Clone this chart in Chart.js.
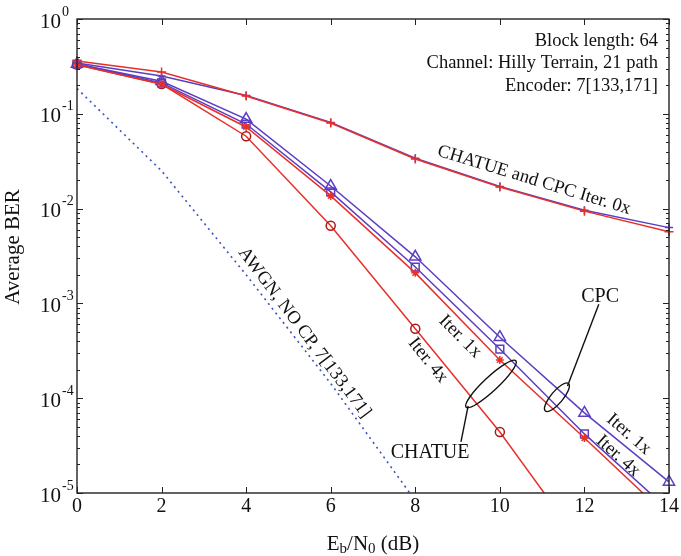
<!DOCTYPE html>
<html>
<head>
<meta charset="utf-8">
<script src="https://cdn.jsdelivr.net/npm/chart.js@4.4.1/dist/chart.umd.min.js"></script>
<style>
  html, body { margin: 0; padding: 0; background: #fff; }
  #wrap { width: 681px; height: 556px; }
</style>
</head>
<body>
<div id="wrap"><canvas id="ber"></canvas></div>
<script>
// Eb/N0 points (dB)
const ebn0 = [0, 2, 4, 6, 8, 10, 12, 14];

// BER curves
const chatue0x = [0.36, 0.276, 0.154, 0.080, 0.0334, 0.0169, 0.0094, 0.0057];
const cpc0x    = [0.343, 0.25, 0.156, 0.081, 0.034, 0.0171, 0.0096, 0.0063];
const chatue1x = [0.33, 0.205, 0.0726, 0.0136, 0.0021, 0.000253, 0.000038, 0.0000055];
const chatue4x = [0.33, 0.206, 0.058, 0.0066, 0.00054, 0.000044, 0.0000026];
const cpc1x    = [0.335, 0.22, 0.088, 0.0173, 0.0031, 0.00044, 0.00007, 0.0000131];
const cpc4x    = [0.335, 0.212, 0.078, 0.015, 0.00242, 0.00033, 0.000042, 0.0000066];

const awgnX = [0, 2, 4, 6, 8];
const awgn  = [0.185, 0.025, 0.0020, 0.000143, 0.0000083];

// axis ticks
const xTicks = [0, 2, 4, 6, 8, 10, 12, 14];
const yExponents = [0, -1, -2, -3, -4, -5];

// text annotations: [text, x (dB), log10(BER), angle deg]
const notes = [
  ['CHATUE and CPC Iter. 0x', 10.81, -1.70, 17],
  ['AWGN, NO CP, 7[133,171]', 5.38, -3.31, 53],
  ['Iter. 1x', 9.06, -3.35, 45],
  ['Iter. 4x', 8.30, -3.60, 51],
  ['Iter. 1x', 13.05, -4.38, 41],
  ['Iter. 4x', 12.80, -4.61, 42],
];
const groupLabels = [['CPC', 12.37, -2.93], ['CHATUE', 8.35, -4.58]];
// ellipses: centre [x, log10(BER)], leader [x1, e1, x2, e2]
const ellipses = [
  { c: [11.35, -3.99], rx: 18, ry: 6, ang: -50, lead: [11.60, -3.87, 12.34, -3.01] },
  { c: [9.79, -3.85], rx: 34, ry: 7, ang: -43, lead: [9.25, -4.08, 9.08, -4.46] },
];
const infoLines = ['Block length: 64', 'Channel: Hilly Terrain, 21 path', 'Encoder: 7[133,171]'];

const SERIF = '"Liberation Serif", "DejaVu Serif", serif';
const RED = '#e8302a';
const PURPLE = '#5b3ec2';
const BLUE = '#3a52c4';

function pts(xs, ys) { return ys.map((y, i) => ({ x: xs[i], y })); }

const clipBottom = { left: 12, top: 12, right: 12, bottom: 0 };

function series(label, data, color, style, radius, extra) {
  return Object.assign({
    label,
    data: pts(ebn0, data),
    borderColor: color,
    backgroundColor: 'rgba(255,255,255,0)',
    pointBorderColor: color,
    pointBackgroundColor: 'rgba(255,255,255,0)',
    pointStyle: style,
    pointRadius: radius,
    pointBorderWidth: 1.5,
    borderWidth: 1.5,
    tension: 0,
    clip: clipBottom,
  }, extra || {});
}

const framePlugin = {
  id: 'frame',
  afterDraw(chart) {
    const { ctx, chartArea: a, scales } = chart;
    const xs = scales.x, ys = scales.y;
    const X = v => xs.getPixelForValue(v);
    const Y = e => ys.getPixelForValue(Math.pow(10, e));
    ctx.save();
    ctx.strokeStyle = '#222';
    ctx.lineWidth = 1.4;
    ctx.strokeRect(a.left, a.top, a.right - a.left, a.bottom - a.top);

    // x ticks inward, bottom and top
    ctx.lineWidth = 1;
    xTicks.forEach(v => {
      const p = Math.round(X(v)) + 0.5;
      ctx.beginPath();
      ctx.moveTo(p, a.bottom); ctx.lineTo(p, a.bottom - 6);
      ctx.moveTo(p, a.top); ctx.lineTo(p, a.top + 6);
      ctx.stroke();
    });
    // y ticks (major + minor) inward, left and right
    yExponents.forEach(e => {
      for (let m = 2; m <= 9; m++) {
        const v = m * Math.pow(10, e - 1);
        if (v < ys.min * 0.999) continue;
        const p = Math.round(ys.getPixelForValue(v)) + 0.5;
        ctx.beginPath();
        ctx.moveTo(a.left, p); ctx.lineTo(a.left + 3, p);
        ctx.moveTo(a.right, p); ctx.lineTo(a.right - 3, p);
        ctx.stroke();
      }
      const p = Math.round(Y(e)) + 0.5;
      ctx.beginPath();
      ctx.moveTo(a.left, p); ctx.lineTo(a.left + 6, p);
      ctx.moveTo(a.right, p); ctx.lineTo(a.right - 6, p);
      ctx.stroke();
    });

    // y tick labels 10^k
    ctx.fillStyle = '#111';
    ctx.textBaseline = 'middle';
    yExponents.forEach(e => {
      const p = Y(e);
      ctx.font = '21px ' + SERIF;
      ctx.textAlign = 'right';
      ctx.fillText('10', a.left - 16, p + 3);
      ctx.font = '14px ' + SERIF;
      ctx.textAlign = 'left';
      ctx.fillText(String(e), a.left - 15, p - 7);
    });

    // axis titles
    ctx.font = '21px ' + SERIF;
    ctx.textAlign = 'center';
    ctx.save();
    ctx.translate(13, (a.top + a.bottom) / 2 - 9);
    ctx.rotate(-Math.PI / 2);
    ctx.fillText('Average BER', 0, 0);
    ctx.restore();

    const parts = [['E', 21, 0], ['b', 15, 5], ['/N', 21, 0], ['0', 15, 5], [' (dB)', 21, 0]];
    let total = 0;
    parts.forEach(pt => { ctx.font = pt[1] + 'px ' + SERIF; total += ctx.measureText(pt[0]).width; });
    let cx = (a.left + a.right) / 2 - total / 2;
    ctx.textAlign = 'left';
    parts.forEach(pt => {
      ctx.font = pt[1] + 'px ' + SERIF;
      ctx.fillText(pt[0], cx, 544 + pt[2]);
      cx += ctx.measureText(pt[0]).width;
    });

    // info text top-right
    ctx.font = '18.5px ' + SERIF;
    ctx.textAlign = 'right';
    infoLines.forEach((t, i) => ctx.fillText(t, a.right - 11, a.top + 22 + i * 22.5));

    // rotated notes
    ctx.font = '18.5px ' + SERIF;
    ctx.textAlign = 'center';
    notes.forEach(n => {
      ctx.save();
      ctx.translate(X(n[1]), Y(n[2]));
      ctx.rotate(n[3] * Math.PI / 180);
      ctx.fillText(n[0], 0, 0);
      ctx.restore();
    });
    ctx.font = '20px ' + SERIF;
    groupLabels.forEach(g => ctx.fillText(g[0], X(g[1]), Y(g[2])));

    // ellipses with leaders
    ctx.strokeStyle = '#111';
    ctx.lineWidth = 1.4;
    ellipses.forEach(el => {
      ctx.beginPath();
      ctx.ellipse(X(el.c[0]), Y(el.c[1]), el.rx, el.ry, el.ang * Math.PI / 180, 0, Math.PI * 2);
      ctx.stroke();
      ctx.beginPath();
      ctx.moveTo(X(el.lead[0]), Y(el.lead[1]));
      ctx.lineTo(X(el.lead[2]), Y(el.lead[3]));
      ctx.stroke();
    });
    ctx.restore();
  }
};

new Chart(document.getElementById('ber'), {
  type: 'line',
  data: {
    datasets: [
      series('CHATUE Iter. 0x', chatue0x, RED, 'cross', 4.5),
      series('CPC Iter. 0x', cpc0x, PURPLE, 'cross', 4),
      series('CHATUE Iter. 1x', chatue1x, RED, 'star', 4),
      series('CPC Iter. 4x', cpc4x, PURPLE, 'rect', 5.5),
      series('CPC Iter. 1x', cpc1x, PURPLE, 'triangle', 6.5),
      series('CHATUE Iter. 4x', chatue4x, RED, 'circle', 4.5, { pointBorderColor: '#a81a16' }),
      {
        label: 'AWGN, NO CP',
        data: pts(awgnX, awgn),
        borderColor: BLUE,
        borderWidth: 1.6,
        borderDash: [2, 4],
        pointRadius: 0,
        tension: 0,
        clip: clipBottom,
      },
    ]
  },
  options: {
    responsive: true,
    maintainAspectRatio: false,
    animation: false,
    events: [],
    layout: { padding: { top: 19, right: 12, left: 0, bottom: 0 } },
    plugins: { legend: { display: false }, tooltip: { enabled: false } },
    scales: {
      x: {
        type: 'linear',
        min: 0, max: 14,
        afterBuildTicks: s => { s.ticks = xTicks.map(v => ({ value: v })); },
        afterFit: s => { s.height = 63; s.paddingLeft = 0; s.paddingRight = 0; },
        grid: { display: false, drawTicks: false },
        border: { display: false },
        ticks: { padding: 2, color: '#111', font: { family: SERIF, size: 20 }, maxRotation: 0 },
      },
      y: {
        type: 'logarithmic',
        min: 1e-5, max: 1,
        afterFit: s => { s.width = 77; },
        grid: { display: false, drawTicks: false },
        border: { display: false },
        ticks: { display: false },
      }
    }
  },
  plugins: [framePlugin]
});
</script>
</body>
</html>
